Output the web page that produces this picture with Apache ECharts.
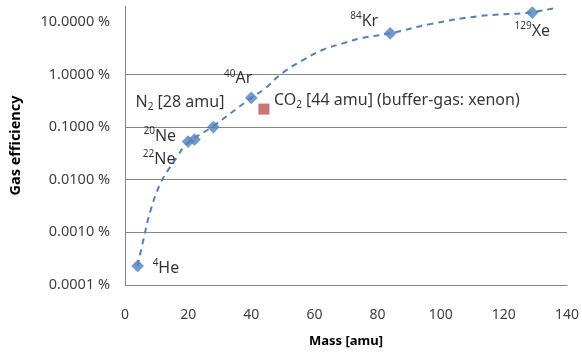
<!DOCTYPE html>
<html>
<head>
<meta charset="utf-8">
<script src="https://cdn.jsdelivr.net/npm/echarts@6/dist/echarts.min.js"></script>
<style>
  html, body { margin: 0; padding: 0; background: #fff; }
  #chart { width: 582px; height: 353px; }
</style>
</head>
<body>
<div id="chart"></div>
<script>
// --- data (efficiency in %) ---
const gasNames = ['He', 'Ne20', 'Ne22', 'N2', 'Ar', 'Kr', 'Xe']
const gasMass = [4, 20, 22, 28, 40, 84, 129]
const gasEff = [0.00023, 0.053, 0.058, 0.1, 0.36, 6.05, 15]

const co2Mass = [44]
const co2Eff = [0.22]

// dashed trend line, sampled along the curve
const trendMass = [4, 6, 8, 11, 14, 16.5, 19.5, 28, 40, 44, 50, 56.5, 62.7, 69, 75, 84, 96.6, 112, 128, 136.7]
const trendEff = [0.00023, 0.0008, 0.0025, 0.008, 0.0165, 0.027, 0.048, 0.105, 0.36, 0.52, 1.08, 1.9, 2.95, 3.9, 4.9, 6.05, 9.05, 12.8, 15, 18.6]

const xTicks = [0, 20, 40, 60, 80, 100, 120, 140]

const FONT = 'Noto Sans'
const BLUE = '#4f81bd'
const GRID = '#868686'

// label text with superscript / subscript pieces
const rich = {
  m: { fontSize: 16, fontFamily: FONT, color: '#000', lineHeight: 20, verticalAlign: 'middle' },
  sup: { fontSize: 10, fontFamily: FONT, color: '#000', lineHeight: 20, verticalAlign: 'top' },
  sub: { fontSize: 10, fontFamily: FONT, color: '#000', lineHeight: 16, verticalAlign: 'bottom' }
}

const gasLabels = [
  { text: '{sup|4}{m|He}', align: 'left', offset: [15, 2] },
  { text: '{sup|20}{m|Ne}', align: 'right', offset: [-12, -5] },
  { text: '{sup|22}{m|Ne}', align: 'right', offset: [-19, 20] },
  { text: '{m|N}{sub|2}{m| [28 amu]}', align: 'right', offset: [11, -25] },
  { text: '{sup|40}{m|Ar}', align: 'right', offset: [1, -19] },
  { text: '{sup|84}{m|Kr}', align: 'right', offset: [-12, -12] },
  { text: '{sup|129}{m|Xe}', align: 'center', offset: [0, 19] }
]

const chart = echarts.init(document.getElementById('chart'))

const option = {
  animation: false,
  backgroundColor: '#fff',
  grid: { left: 118, right: 13, top: 6, bottom: 65 },
  xAxis: {
    type: 'value',
    min: xTicks[0],
    max: xTicks[xTicks.length - 1],
    interval: 20,
    name: 'Mass [amu]',
    nameLocation: 'middle',
    nameGap: 50,
    nameTextStyle: { fontFamily: FONT, fontWeight: 'bold', fontSize: 13, color: '#000' },
    axisLine: { lineStyle: { color: GRID, width: 1 } },
    axisTick: { show: false },
    splitLine: { show: false },
    axisLabel: { fontFamily: FONT, fontSize: 14, color: '#404040', margin: 23 }
  },
  yAxis: {
    type: 'log',
    logBase: 10,
    min: 0.0001,
    max: 20,
    name: 'Gas efficiency',
    nameLocation: 'middle',
    nameGap: 102,
    nameTextStyle: { fontFamily: FONT, fontWeight: 'bold', fontSize: 14.5, color: '#000' },
    axisLine: { show: true, lineStyle: { color: GRID, width: 1 } },
    axisTick: { show: false },
    splitLine: {
      show: true,
      lineStyle: {
        color: [GRID, GRID, GRID, GRID, GRID, 'rgba(0,0,0,0)', 'rgba(0,0,0,0)'],
        width: 1
      }
    },
    axisLabel: {
      fontFamily: FONT,
      fontSize: 14.5,
      color: '#404040',
      margin: 15,
      formatter: v => {
        const l = Math.log10(v)
        if (Math.abs(l - Math.round(l)) > 1e-6) return ''
        return v.toFixed(4) + ' %'
      }
    }
  },
  series: [
    {
      name: 'trend',
      type: 'line',
      data: trendMass.map((m, i) => [m, trendEff[i]]),
      smooth: 0.4,
      showSymbol: false,
      symbol: 'none',
      lineStyle: { color: BLUE, width: 2, type: [6, 5] },
      z: 2
    },
    {
      name: 'gases',
      type: 'scatter',
      symbol: 'rect',
      symbolSize: 9,
      symbolRotate: 45,
      itemStyle: { color: BLUE },
      data: gasMass.map((m, i) => ({
        value: [m, gasEff[i]],
        label: {
          show: true,
          position: 'inside',
          formatter: gasLabels[i].text,
          align: gasLabels[i].align,
          offset: gasLabels[i].offset,
          rich: rich
        }
      })),
      z: 3
    },
    {
      name: 'co2',
      type: 'scatter',
      symbol: 'rect',
      symbolSize: 11,
      itemStyle: { color: '#c0504d' },
      data: co2Mass.map((m, i) => ({
        value: [m, co2Eff[i]],
        label: {
          show: true,
          position: 'inside',
          formatter: '{m|CO}{sub|2}{m| [44 amu] (buffer-gas: xenon)}',
          align: 'left',
          offset: [10, -9],
          rich: rich
        }
      })),
      z: 3
    }
  ]
}

chart.setOption(option)
</script>
</body>
</html>
